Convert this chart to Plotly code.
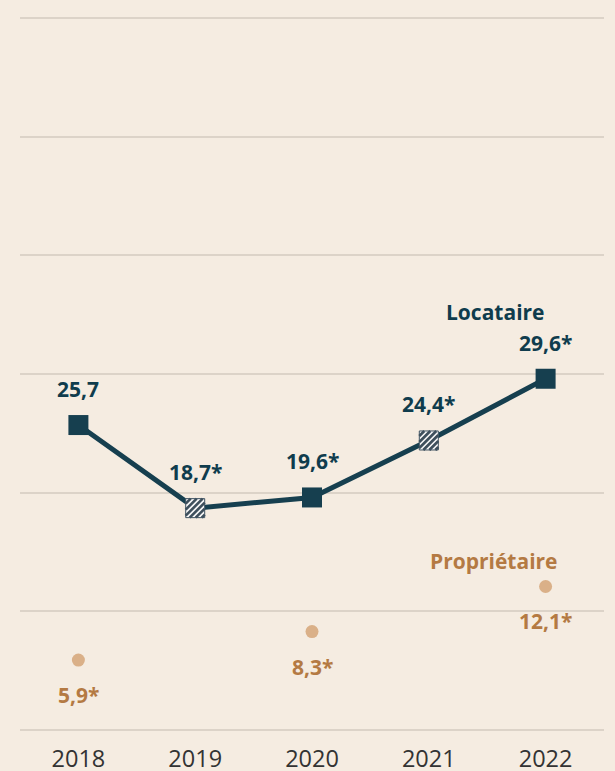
import plotly.graph_objects as go

years = ["2018", "2019", "2020", "2021", "2022"]
locataire = [25.7, 18.7, 19.6, 24.4, 29.6]
locataire_labels = ["25,7", "18,7*", "19,6*", "24,4*", "29,6*"]
locataire_hatched = [False, True, False, True, False]
proprietaire_years = ["2018", "2020", "2022"]
proprietaire = [5.9, 8.3, 12.1]
proprietaire_labels = ["5,9*", "8,3*", "12,1*"]
y_ticks = [0, 10, 20, 30, 40, 50, 60]

BG = "#f5ece1"
TEAL = "#163f4f"
TEAL_TXT = "#0f3c4d"
OWN_DOT = "#dab088"
OWN_TXT = "#b47a43"
GRID = "#dcd3c8"
FONT = "Open Sans"

idx = {y: i for i, y in enumerate(years)}

fig = go.Figure()

fig.add_trace(go.Scatter(
    x=years, y=locataire, mode="lines",
    line=dict(color=TEAL, width=5),
    hoverinfo="skip", cliponaxis=False, showlegend=False))

solid_x = [x for x, h in zip(years, locataire_hatched) if not h]
solid_y = [v for v, h in zip(locataire, locataire_hatched) if not h]

fig.add_trace(go.Scatter(
    x=solid_x, y=solid_y, mode="markers",
    marker=dict(symbol="square", size=20, color=TEAL, line=dict(width=0)),
    cliponaxis=False, showlegend=False))

fig.add_trace(go.Scatter(
    x=proprietaire_years, y=proprietaire, mode="markers",
    marker=dict(symbol="circle", size=13, color=OWN_DOT, line=dict(width=0)),
    cliponaxis=False, showlegend=False))

# hatched squares drawn as pixel-sized shapes anchored at the data points
H = 9.5
STEP = 6.0
shapes = []
for x, v, h in zip(years, locataire, locataire_hatched):
    if not h:
        continue
    xi = idx[x]
    base = dict(xref="x", yref="y", xsizemode="pixel", ysizemode="pixel",
                xanchor=xi, yanchor=v, layer="above")
    shapes.append(dict(type="rect", x0=-H, x1=H, y0=-H, y1=H,
                       fillcolor="#f7f7f7", line=dict(width=0), **base))
    segs = []
    c = -2 * H + STEP / 2
    while c < 2 * H:
        xa = max(-H, -H - c)
        xb = min(H, H - c)
        if xb > xa:
            segs.append(f"M{xa:.2f},{xa + c:.2f} L{xb:.2f},{xb + c:.2f}")
        c += STEP
    shapes.append(dict(type="path", path=" ".join(segs),
                       line=dict(width=2.6, color="#3e4f5c"), **base))
    shapes.append(dict(type="rect", x0=-H, x1=H, y0=-H, y1=H,
                       fillcolor="rgba(0,0,0,0)", line=dict(width=1, color="#3e5260"), **base))

LBL = 21
annotations = []
for x, v, t in zip(years, locataire, locataire_labels):
    annotations.append(dict(x=idx[x], y=v, text=t, showarrow=False, xref="x", yref="y",
                            yshift=36, font=dict(family=FONT, size=LBL, color=TEAL_TXT, weight="bold")))
annotations.append(dict(x=idx[years[-1]], y=locataire[-1], text="Locataire", showarrow=False,
                        xref="x", yref="y", yshift=67, xshift=-50,
                        font=dict(family=FONT, size=LBL, color=TEAL_TXT, weight="bold")))
for x, v, t in zip(proprietaire_years, proprietaire, proprietaire_labels):
    annotations.append(dict(x=idx[x], y=v, text=t, showarrow=False, xref="x", yref="y",
                            yshift=-35, font=dict(family=FONT, size=LBL, color=OWN_TXT, weight="bold")))
annotations.append(dict(x=idx[proprietaire_years[-1]], y=proprietaire[-1], text="Propriétaire",
                        showarrow=False, xref="x", yref="y", yshift=25, xshift=-52,
                        font=dict(family=FONT, size=LBL, color=OWN_TXT, weight="bold")))

PX = 712 / 60.0  # pixels per unit
fig.update_layout(
    width=615, height=771,
    paper_bgcolor=BG, plot_bgcolor=BG,
    margin=dict(l=19.5, r=10.5, t=18 - PX, b=41 - PX, autoexpand=False),
    annotations=annotations,
    shapes=shapes,
    xaxis=dict(type="category", range=[-0.5, 4.5], showgrid=False, zeroline=False,
               showline=False, ticks="", tickfont=dict(family=FONT, size=23.5, color="#333333"),
               ticklabelstandoff=0, automargin=False, fixedrange=True),
    yaxis=dict(range=[-1, 61], tickvals=y_ticks, showticklabels=False, showgrid=True,
               gridcolor=GRID, gridwidth=2, zeroline=False, showline=False,
               automargin=False, fixedrange=True),
    showlegend=False,
)

fig.write_html("out.html", config={"displayModeBar": False},
               post_script="document.body.style.margin='0';")
